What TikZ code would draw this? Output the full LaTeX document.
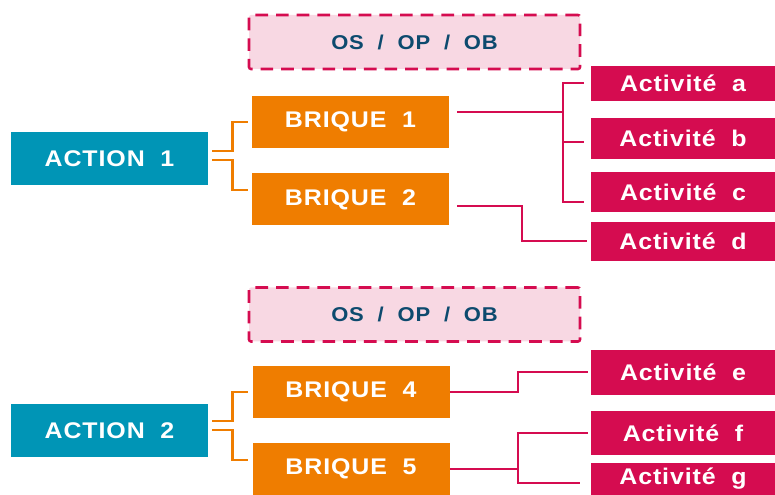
\documentclass[tikz,border=0pt]{standalone}
\usepackage{fontspec}
\setmainfont{Liberation Sans}[FakeStretch=1.1,LetterSpace=4,WordSpace=2]
\usetikzlibrary{calc}
\definecolor{teal1}{RGB}{0,149,182}
\definecolor{orange1}{RGB}{239,125,0}
\definecolor{crimson1}{RGB}{213,12,80}
\definecolor{navy1}{RGB}{13,74,110}
\begin{document}
\begin{tikzpicture}[x=0.75pt,y=0.75pt,yscale=-1,xscale=1,
  actbox/.style={fill=teal1,text=white,font=\bfseries\fontsize{17}{20}\selectfont,
    minimum width=147.75pt,minimum height=39.75pt,inner sep=0pt},
  briqbox/.style={fill=orange1,text=white,font=\bfseries\fontsize{17}{20}\selectfont,
    minimum width=147.75pt,minimum height=39pt,inner sep=0pt},
  activbox/.style={fill=crimson1,text=white,font=\bfseries\fontsize{17}{20}\selectfont,
    minimum width=138pt,inner sep=0pt},
  osbox/.style={draw=crimson1,line width=1.9pt,dash pattern={on 9.5pt off 6pt},
    rounded corners=1.5pt,fill=crimson1!16,text=navy1,
    font=\bfseries\fontsize{15}{18}\selectfont,
    minimum width=248.25pt,minimum height=40.5pt,inner sep=0pt},
  oline/.style={draw=orange1,line width=1.9pt},
  cline/.style={draw=crimson1,line width=1.5pt}]
\useasboundingbox (0,0) rectangle (775,495);
%OS / OP / OB boxes
\node[osbox] (os1) at (414.5,42) {OS\ / OP / OB};
\node[osbox] (os2) at (414.5,314.5) {OS / OP / OB};
%Action 1
\node[actbox] (act1) at (109.5,158.5) {ACTION 1};
\node[briqbox] (briq1) at (350.5,122) {BRIQUE 1};
\node[briqbox] (briq2) at (350.5,199.5) {BRIQUE 2};
\node[activbox,minimum height=26.25pt] (acta) at (683,83.5) {Activité a};
\node[activbox,minimum height=30.75pt] (actb) at (683,138.5) {Activité b};
\node[activbox,minimum height=30pt] (actc) at (683,192) {Activité c};
\node[activbox,minimum height=29.25pt] (actd) at (683,241.5) {Activité d};
%Action 2
\node[actbox] (act2) at (109.5,430.5) {ACTION 2};
\node[briqbox] (briq4) at (351,392) {BRIQUE 4};
\node[briqbox] (briq5) at (351,469) {BRIQUE 5};
\node[activbox,minimum height=33.75pt] (acte) at (683,372.5) {Activité e};
\node[activbox,minimum height=33pt] (actf) at (683,433) {Activité f};
\node[activbox,minimum height=24pt] (actg) at (683,479) {Activité g};
%Orange brackets
\draw[oline] ($(act1.east)+(4,-7.5)$) -- ++(20,0) |- ($(briq1.west)+(-4,0)$);
\draw[oline] ($(act1.east)+(4,1.5)$) -- ++(20,0) |- ($(briq2.west)+(-4,-9.5)$);
\draw[oline] ($(act2.east)+(4,-9.5)$) -- ++(20,0) |- ($(briq4.west)+(-4,0)$);
\draw[oline] ($(act2.east)+(4,-0.5)$) -- ++(20,0) |- ($(briq5.west)+(-4,-9)$);
%Crimson connectors
\draw[cline] ($(briq1.east)+(8,-10)$) -- ++(106,0);
\draw[cline] ($(acta.west)+(-7,0)$) -| ($(actc.west)+(-28,10)$) -- ($(actc.west)+(-7,10)$);
\draw[cline] ($(actb.west)+(-7,3.5)$) -- ++(-21,0);
\draw[cline] ($(briq2.east)+(8,6.5)$) -- ++(65,0) |- ($(actd.west)+(-4,0)$);
\draw[cline] (briq4.east) -- ++(68,0) |- ($(acte.west)+(-3,0)$);
\draw[cline] (briq5.east) -- ++(68,0);
\draw[cline] ($(actf.west)+(-3,0)$) -| ($(actg.west)+(-73,4)$) -- ($(actg.west)+(-11,4)$);
\end{tikzpicture}
\end{document}
